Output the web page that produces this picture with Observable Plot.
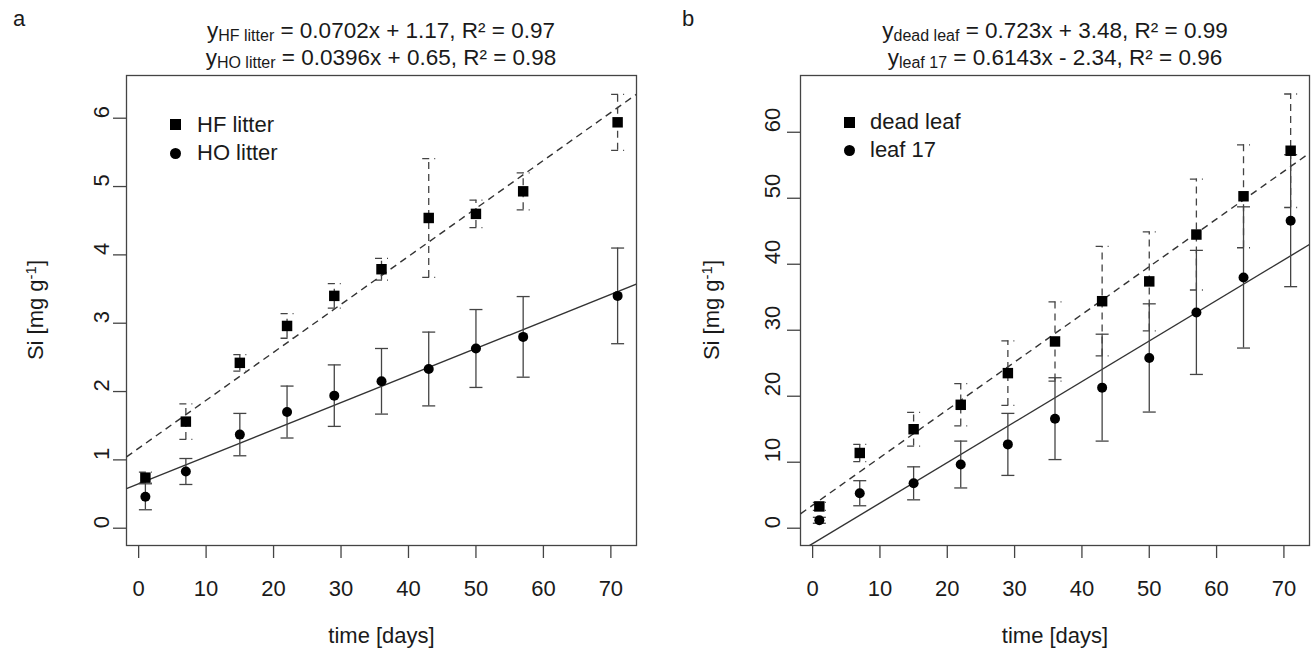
<!DOCTYPE html>
<html><head><meta charset="utf-8">
<script src="https://cdn.jsdelivr.net/npm/d3@7"></script>
<script src="https://cdn.jsdelivr.net/npm/@observablehq/plot@0.6"></script>
<style>
body{margin:0;background:#fff;font-family:"Liberation Sans",Arial,sans-serif;color:#1a1a1a}
#wrap{position:relative;width:1312px;height:657px;overflow:hidden;background:#fff}
.panel{position:absolute;top:0}
.t{position:absolute;font-size:22px;line-height:1;white-space:nowrap;transform:translate(-50%,-50%)}
.tt{position:absolute;font-size:22.5px;line-height:1;white-space:nowrap;transform:translate(-50%,-50%)}
.tl{position:absolute;font-size:22px;line-height:1;white-space:nowrap;transform:translate(0,-50%)}
.sub{font-size:16px;position:relative;top:3px}
.rot{position:absolute;font-size:22px;line-height:1;white-space:nowrap;transform:translate(-50%,-50%) rotate(-90deg)}
.sup{font-size:15px;position:relative;top:-7px}
.sq{position:absolute;width:11px;height:11px;background:#000}
.ci{position:absolute;width:11px;height:11px;background:#000;border-radius:50%}
</style></head>
<body><div id="wrap"></div>
<script>
// ---- data: panel a ----
const daysA = [1, 7, 15, 22, 29, 36, 43, 50, 57, 71];
const hfMean = [0.74, 1.56, 2.42, 2.96, 3.40, 3.79, 4.54, 4.60, 4.93, 5.94];
const hfErr  = [0.08, 0.26, 0.12, 0.18, 0.18, 0.16, 0.87, 0.20, 0.27, 0.41];
const hoMean = [0.46, 0.83, 1.37, 1.70, 1.94, 2.15, 2.33, 2.63, 2.80, 3.40];
const hoErr  = [0.19, 0.19, 0.31, 0.38, 0.45, 0.48, 0.54, 0.57, 0.59, 0.70];
const fitHF = [0.0702, 1.17];
const fitHO = [0.0396, 0.65];
const yTicksA = [0, 1, 2, 3, 4, 5, 6];
// ---- data: panel b ----
const daysB = [1, 7, 15, 22, 29, 36, 43, 50, 57, 64, 71];
const deadMean = [3.3, 11.4, 15.0, 18.7, 23.5, 28.3, 34.4, 37.4, 44.5, 50.3, 57.2];
const deadErr  = [0.6, 1.3, 2.55, 3.2, 4.9, 6.0, 8.3, 7.5, 8.4, 7.8, 8.6];
const leafMean = [1.2, 5.3, 6.8, 9.65, 12.7, 16.6, 21.3, 25.8, 32.7, 38.0, 46.6];
const leafErr  = [0.45, 1.9, 2.5, 3.55, 4.7, 6.2, 8.1, 8.2, 9.4, 10.7, 10.0];
const fitDead = [0.723, 3.48];
const fitLeaf = [0.6143, -2.34];
const yTicksB = [0, 10, 20, 30, 40, 50, 60];
const xTicks = [0, 10, 20, 30, 40, 50, 60, 70];

const FONT = "Liberation Sans, Arial, sans-serif";
const GREY = "#444";
const DASH = "7,5";
const capSym = {draw(ctx, size){ const w = Math.sqrt(size/Math.PI); ctx.moveTo(-w,0); ctx.lineTo(w,0); }};

function rows(days, mean, err){ return days.map((d,i)=>({day:d, m:mean[i], lo:mean[i]-err[i], hi:mean[i]+err[i]})); }

function seriesMarks(data, dashed, symbol, r){
  const da = dashed ? DASH : null;
  return [
    Plot.ruleX(data, {x:"day", y1:"lo", y2:"hi", stroke:GREY, strokeWidth:1.3, strokeDasharray:da}),
    Plot.dot(data, {x:"day", y:"lo", symbol:capSym, r:6.5, stroke:GREY, fill:"none", strokeWidth:1.3, strokeDasharray:da}),
    Plot.dot(data, {x:"day", y:"hi", symbol:capSym, r:6.5, stroke:GREY, fill:"none", strokeWidth:1.3, strokeDasharray:da}),
    Plot.dot(data, {x:"day", y:"m", symbol, r, fill:"#000", stroke:"none"})
  ];
}

function fitLine(fit, xd, dashed){
  const pts = [{x1:xd[0], x2:xd[1], y1:fit[0]*xd[0]+fit[1], y2:fit[0]*xd[1]+fit[1]}];
  return Plot.link(pts, {x1:"x1", x2:"x2", y1:"y1", y2:"y2", stroke:"#333", strokeWidth:1.4, strokeDasharray: dashed ? DASH : null, clip:true});
}

function panel(opts){
  const xd = [-1.8, 73.8];
  return Plot.plot({
    width:656, height:657,
    marginTop:75, marginBottom:112, marginLeft:opts.ml, marginRight:opts.mr,
    x:{domain:xd}, y:{domain:opts.yd},
    style:{fontFamily:FONT, fontSize:"22px", color:"#1a1a1a", background:"transparent"},
    marks:[
      Plot.frame({stroke:GREY, strokeWidth:1.3}),
      Plot.axisX(xTicks, {tickSize:13, tickPadding:22, stroke:GREY, strokeWidth:1.3, fontSize:22, label:null}),
      Plot.axisY(opts.yTicks, {tickSize:13, stroke:GREY, strokeWidth:1.3, tickFormat:()=>"", label:null}),
      Plot.text(opts.yTicks, {y:d=>d, text:d=>String(d), frameAnchor:"left", rotate:-90, dx:opts.ydx, fontSize:22, fill:"#1a1a1a"}),
      Plot.text(["time [days]"], {frameAnchor:"bottom", dy:97, fontSize:22, fill:"#1a1a1a"}),
      fitLine(opts.fitSq, xd, true),
      fitLine(opts.fitCi, xd, false),
      ...seriesMarks(opts.ci, false, "circle", 5),
      ...seriesMarks(opts.sq, true, "square", 5.9)
    ]
  });
}

const wrap = document.getElementById("wrap");
const pa = panel({ml:126, mr:20, ydx:-25, yd:[-0.253, 6.625], yTicks:yTicksA,
  sq:rows(daysA, hfMean, hfErr), ci:rows(daysA, hoMean, hoErr), fitSq:fitHF, fitCi:fitHO});
pa.classList.add("panel"); pa.style.left = "0px";
wrap.appendChild(pa);
const pb = panel({ml:144, mr:3, ydx:-28, yd:[-2.62, 68.6], yTicks:yTicksB,
  sq:rows(daysB, deadMean, deadErr), ci:rows(daysB, leafMean, leafErr), fitSq:fitDead, fitCi:fitLeaf});
pb.classList.add("panel"); pb.style.left = "656px";
wrap.appendChild(pb);

function fmtFit(name, fit, r2){
  const b = fit[1] < 0 ? " - " + Math.abs(fit[1]).toFixed(2) : " + " + fit[1].toFixed(2);
  return `y<span class="sub">${name}</span> = ${fit[0]}x${b}, R² = ${r2}`;
}
const overlay = [
  {cls:"t", x:19, y:19, html:"a"},
  {cls:"t", x:688, y:19, html:"b"},
  {cls:"tt", x:381, y:31, html:fmtFit("HF litter", fitHF, "0.97")},
  {cls:"tt", x:381, y:58, html:fmtFit("HO litter", fitHO, "0.98")},
  {cls:"tt", x:1055, y:31, html:fmtFit("dead leaf", fitDead, "0.99")},
  {cls:"tt", x:1055, y:58, html:fmtFit("leaf 17", fitLeaf, "0.96")},
  {cls:"rot", x:36, y:310, html:'Si [mg g<span class="sup">-1</span>]'},
  {cls:"rot", x:712, y:310, html:'Si [mg g<span class="sup">-1</span>]'},
  {cls:"tl", x:197, y:125, html:"HF litter"},
  {cls:"tl", x:197, y:153, html:"HO litter"},
  {cls:"tl", x:870, y:122, html:"dead leaf"},
  {cls:"tl", x:870, y:150, html:"leaf 17"}
];
for (const o of overlay){
  const d = document.createElement("div");
  d.className = o.cls; d.style.left = o.x + "px"; d.style.top = o.y + "px"; d.innerHTML = o.html;
  wrap.appendChild(d);
}
for (const s of [{c:"sq",x:169.5,y:118.5},{c:"ci",x:169.5,y:147.5},{c:"sq",x:843.5,y:116.5},{c:"ci",x:843.5,y:144.5}]){
  const d = document.createElement("div");
  d.className = s.c; d.style.left = s.x + "px"; d.style.top = s.y + "px";
  wrap.appendChild(d);
}
</script>
</body></html>
